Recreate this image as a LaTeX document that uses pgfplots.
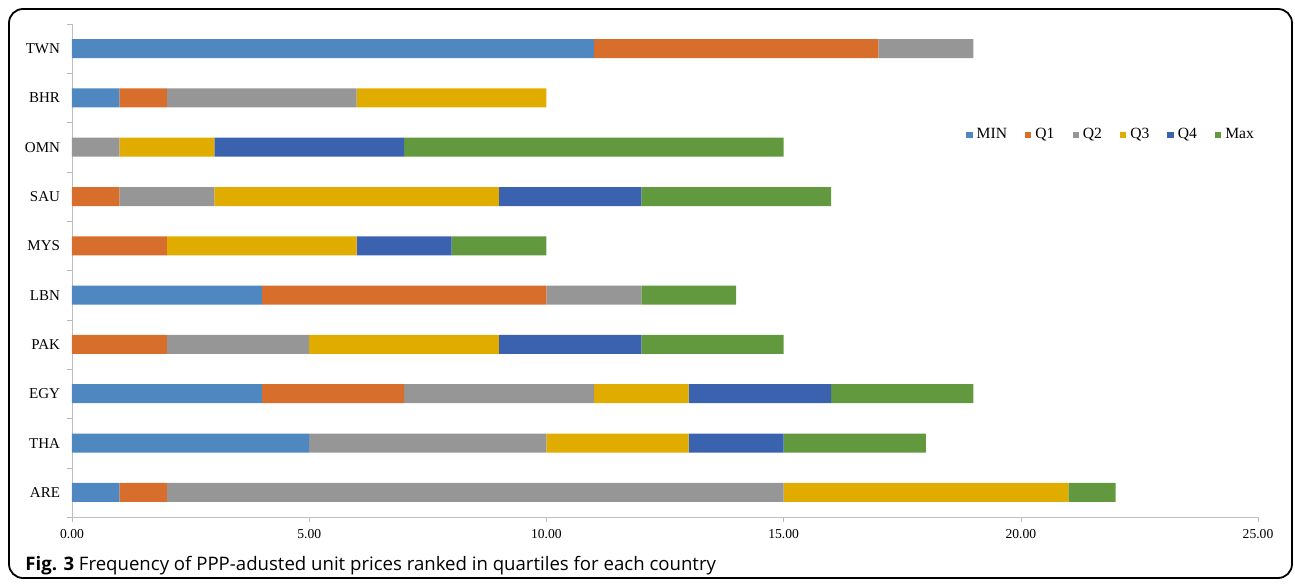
\documentclass[border=0pt]{standalone}
\usepackage{pgfplots}
\pgfplotsset{compat=1.18}
\usepackage{fontspec}
\setmainfont{Liberation Serif}
\newfontfamily\capfont{Open Sans}
\definecolor{cMIN}{RGB}{79,136,192}
\definecolor{cQ1}{RGB}{216,110,43}
\definecolor{cQ2}{RGB}{150,150,150}
\definecolor{cQ3}{RGB}{224,172,0}
\definecolor{cQ4}{RGB}{58,98,174}
\definecolor{cMax}{RGB}{98,153,62}
\begin{document}
\begin{tikzpicture}
\useasboundingbox (-36pt,-33.5pt) rectangle (611.5pt,258.5pt);
\draw[line width=0.9pt, rounded corners=7pt] (-31.5pt,-30.5pt) rectangle (610pt,254pt);
\begin{axis}[
  at={(0,0)}, anchor=south west,
  scale only axis, width=593pt, height=246.5pt,
  xbar stacked, bar width=9.5pt,
  xmin=0, xmax=25, ymin=-0.5, ymax=9.5,
  xtick={0,5,...,25},
  xticklabel style={font=\fontsize{6.8}{7}\selectfont,
    /pgf/number format/fixed, /pgf/number format/fixed zerofill,
    /pgf/number format/precision=2, /pgf/number format/assume math mode=true},
  ytick={0,...,9},
  yticklabels={ARE,THA,EGY,PAK,LBN,MYS,SAU,OMN,BHR,TWN},
  yticklabel style={font=\fontsize{7.5}{8}\selectfont},
  minor ytick={-0.5,0.5,...,9.5},
  major tick length=2.5pt,
  minor tick length=2.5pt,
  xtick style={draw=gray!55},
  major y tick style={draw=none},
  minor y tick style={draw=gray!55},
  tick align=outside,
  axis x line*=bottom, axis y line*=left,
  axis line style={gray!50, -},
  separate axis lines,
  legend style={draw=none, fill=none, at={(0.877,0.775)}, anchor=center,
    font=\fontsize{7.8}{8}\selectfont, legend columns=6,
    /tikz/every even column/.append style={column sep=7pt}},
  legend image code/.code={\fill[#1] (0pt,-1.6pt) rectangle (3.2pt,1.6pt);},
  legend cell align=left,
]
\addplot[fill=cMIN, draw=none] coordinates {(1,0) (5,1) (4,2) (0,3) (4,4) (0,5) (0,6) (0,7) (1,8) (11,9)};
\addplot[fill=cQ1, draw=none] coordinates {(1,0) (0,1) (3,2) (2,3) (6,4) (2,5) (1,6) (0,7) (1,8) (6,9)};
\addplot[fill=cQ2, draw=none] coordinates {(13,0) (5,1) (4,2) (3,3) (2,4) (0,5) (2,6) (1,7) (4,8) (2,9)};
\addplot[fill=cQ3, draw=none] coordinates {(6,0) (3,1) (2,2) (4,3) (0,4) (4,5) (6,6) (2,7) (4,8) (0,9)};
\addplot[fill=cQ4, draw=none] coordinates {(0,0) (2,1) (3,2) (3,3) (0,4) (2,5) (3,6) (4,7) (0,8) (0,9)};
\addplot[fill=cMax, draw=none] coordinates {(1,0) (3,1) (3,2) (3,3) (2,4) (2,5) (4,6) (8,7) (0,8) (0,9)};
\legend{MIN,Q1,Q2,Q3,Q4,Max}
\end{axis}
\node[anchor=base west, inner sep=0pt, font=\capfont\fontsize{9.3}{11}\selectfont] at (-23.5pt,-26.5pt) {\textbf{Fig. 3} Frequency of PPP-adusted unit prices ranked in quartiles for each country};
\end{tikzpicture}
\end{document}
